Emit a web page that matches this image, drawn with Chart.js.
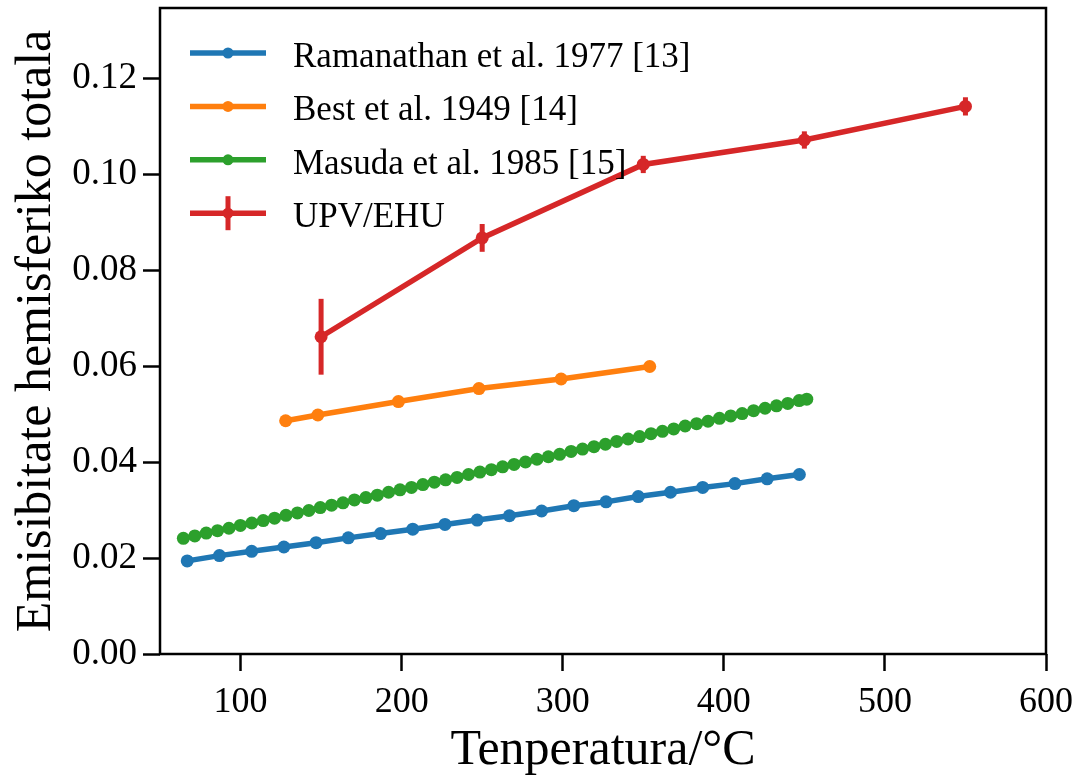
<!DOCTYPE html>
<html>
<head>
<meta charset="utf-8">
<script src="https://cdn.jsdelivr.net/npm/chart.js@4.4.0/dist/chart.umd.min.js"></script>
<style>
  html, body { margin: 0; padding: 0; background: #fff; }
  #wrap { width: 1078px; height: 775px; }
</style>
</head>
<body>
<div id="wrap"><canvas id="emChart" width="1078" height="775"></canvas></div>
<script>
/* Total hemispherical emissivity vs temperature */

// Ramanathan et al. 1977 [13]
const ramTemp = [66.9, 86.9, 106.9, 126.9, 146.9, 166.9, 186.9, 206.9, 226.9, 246.9,
                 266.9, 286.9, 306.9, 326.9, 346.9, 366.9, 386.9, 406.9, 426.9, 446.9];
const ramEmis = [0.0194, 0.0205, 0.0214, 0.0223, 0.0232, 0.0242, 0.0251, 0.0260, 0.0270, 0.0279,
                 0.0288, 0.0298, 0.0309, 0.0317, 0.0328, 0.0337, 0.0347, 0.0355, 0.0365, 0.0374];

// Best et al. 1949 [14]
const bestTemp = [128, 148, 198, 248, 299, 354];
const bestEmis = [0.0486, 0.0498, 0.0526, 0.0553, 0.0573, 0.0599];

// Masuda et al. 1985 [15]
const masTemp = [64.5, 71.6, 78.7, 85.7, 92.8, 99.9, 107.0, 114.1, 121.1, 128.2,
                 135.3, 142.4, 149.5, 156.5, 163.6, 170.7, 177.8, 184.9, 191.9, 199.0,
                 206.1, 213.2, 220.3, 227.3, 234.4, 241.5, 248.6, 255.7, 262.7, 269.8,
                 276.9, 284.0, 291.1, 298.1, 305.2, 312.3, 319.4, 326.5, 333.5, 340.6,
                 347.7, 354.8, 361.9, 368.9, 376.0, 383.1, 390.2, 397.3, 404.3, 411.4,
                 418.5, 425.6, 432.7, 439.7, 446.8, 451.5];
const masEmis = [0.0241, 0.0246, 0.0252, 0.0257, 0.0262, 0.0268, 0.0273, 0.0278, 0.0283, 0.0289,
                 0.0294, 0.0299, 0.0305, 0.0310, 0.0315, 0.0321, 0.0326, 0.0331, 0.0337, 0.0342,
                 0.0347, 0.0353, 0.0358, 0.0363, 0.0368, 0.0374, 0.0379, 0.0384, 0.0390, 0.0395,
                 0.0400, 0.0406, 0.0411, 0.0416, 0.0422, 0.0427, 0.0432, 0.0437, 0.0443, 0.0448,
                 0.0453, 0.0459, 0.0464, 0.0469, 0.0475, 0.0480, 0.0485, 0.0491, 0.0496, 0.0501,
                 0.0507, 0.0512, 0.0517, 0.0522, 0.0528, 0.0531];

// UPV/EHU measurements with uncertainty
const upvTemp = [150, 250, 350, 450, 550];
const upvEmis = [0.0661, 0.0867, 0.1020, 0.1071, 0.1141];
const upvErr = [0.0079, 0.0029, 0.0018, 0.0018, 0.0019];

const xTicks = [100, 200, 300, 400, 500, 600];
const yTicks = [0, 0.02, 0.04, 0.06, 0.08, 0.10, 0.12];

const BLUE = '#1f77b4';
const ORANGE = '#ff7f0e';
const GREEN = '#2ca02c';
const RED = '#d62728';
const FONT = "'Liberation Serif', 'Times New Roman', serif";

function series(label, temps, vals, color, order) {
  return {
    label,
    data: temps.map((t, i) => ({ x: t, y: vals[i] })),
    borderColor: color,
    backgroundColor: color,
    pointBackgroundColor: color,
    pointBorderWidth: 0,
    pointRadius: 6.5,
    borderWidth: 5.5,
    tension: 0,
    fill: false,
    order,
  };
}

const datasets = [
  series('Ramanathan et al. 1977 [13]', ramTemp, ramEmis, BLUE, 3),
  series('Best et al. 1949 [14]', bestTemp, bestEmis, ORANGE, 2),
  series('Masuda et al. 1985 [15]', masTemp, masEmis, GREEN, 1),
  series('UPV/EHU', upvTemp, upvEmis, RED, 0),
];

// vertical error bars for the UPV/EHU series
const errorBars = {
  id: 'errorBars',
  afterDatasetsDraw(chart) {
    const { ctx, scales: { x, y } } = chart;
    ctx.save();
    ctx.strokeStyle = RED;
    ctx.lineWidth = 5;
    upvTemp.forEach((t, i) => {
      const px = x.getPixelForValue(t);
      ctx.beginPath();
      ctx.moveTo(px, y.getPixelForValue(upvEmis[i] - upvErr[i]));
      ctx.lineTo(px, y.getPixelForValue(upvEmis[i] + upvErr[i]));
      ctx.stroke();
    });
    ctx.restore();
  },
};

// frameless legend, line + marker handles
const lineLegend = {
  id: 'lineLegend',
  afterDatasetsDraw(chart) {
    const { ctx, chartArea: a } = chart;
    const x0 = a.left + 30, x1 = a.left + 106, xm = (x0 + x1) / 2;
    ctx.save();
    chart.data.datasets.forEach((ds, i) => {
      const yy = a.top + 45 + i * 53.4;
      ctx.strokeStyle = ds.borderColor;
      ctx.lineWidth = 5.5;
      ctx.beginPath();
      ctx.moveTo(x0, yy);
      ctx.lineTo(x1, yy);
      ctx.stroke();
      if (ds.label === 'UPV/EHU') {
        ctx.lineWidth = 5;
        ctx.beginPath();
        ctx.moveTo(xm, yy - 17);
        ctx.lineTo(xm, yy + 17);
        ctx.stroke();
      }
      ctx.fillStyle = ds.borderColor;
      ctx.beginPath();
      ctx.arc(xm, yy, 5.5, 0, Math.PI * 2);
      ctx.fill();
      ctx.fillStyle = '#000';
      ctx.font = `35px ${FONT}`;
      ctx.textBaseline = 'alphabetic';
      ctx.fillText(ds.label, a.left + 133, yy + 14);
    });
    ctx.restore();
  },
};

// box around the plotting area
const frame = {
  id: 'frame',
  afterDraw(chart) {
    const { ctx, chartArea: a } = chart;
    ctx.save();
    ctx.strokeStyle = '#000';
    ctx.lineWidth = 2.5;
    ctx.strokeRect(a.left, a.top, a.right - a.left, a.bottom - a.top);
    ctx.restore();
  },
};

const tickGrid = {
  display: true,
  drawOnChartArea: false,
  drawTicks: true,
  tickLength: 17,
  tickWidth: 2.5,
  tickColor: '#000',
};

new Chart(document.getElementById('emChart'), {
  type: 'line',
  data: { datasets },
  plugins: [errorBars, lineLegend, frame],
  options: {
    responsive: false,
    animation: false,
    layout: { padding: { top: 8, right: 32, left: 0, bottom: 0 } },
    plugins: {
      legend: { display: false },
      tooltip: { enabled: false },
    },
    scales: {
      x: {
        type: 'linear',
        min: 50,
        max: 600,
        afterFit: s => { s.height = 121; s.paddingLeft = 0; s.paddingRight = 0; },
        afterBuildTicks: s => { s.ticks = xTicks.map(v => ({ value: v })); },
        ticks: {
          color: '#000',
          font: { family: FONT, size: 36 },
          padding: 10,
          maxRotation: 0,
          autoSkip: false,
          callback: v => String(v),
        },
        grid: tickGrid,
        border: { display: false },
        title: {
          display: true,
          text: 'Tenperatura/°C',
          color: '#000',
          font: { family: FONT, size: 50 },
          padding: { top: 0, bottom: -6 },
        },
      },
      y: {
        type: 'linear',
        min: 0,
        max: 0.1346,
        afterFit: s => { s.width = 160; s.paddingTop = 0; s.paddingBottom = 0; },
        afterBuildTicks: s => { s.ticks = yTicks.map(v => ({ value: v })); },
        ticks: {
          color: '#000',
          font: { family: FONT, size: 37 },
          padding: 6,
          autoSkip: false,
          callback: v => v.toFixed(2),
        },
        grid: tickGrid,
        border: { display: false },
        title: {
          display: true,
          text: 'Emisibitate hemisferiko totala',
          color: '#000',
          font: { family: FONT, size: 50 },
          padding: { top: 7, bottom: 0 },
        },
      },
    },
  },
});
</script>
</body>
</html>
